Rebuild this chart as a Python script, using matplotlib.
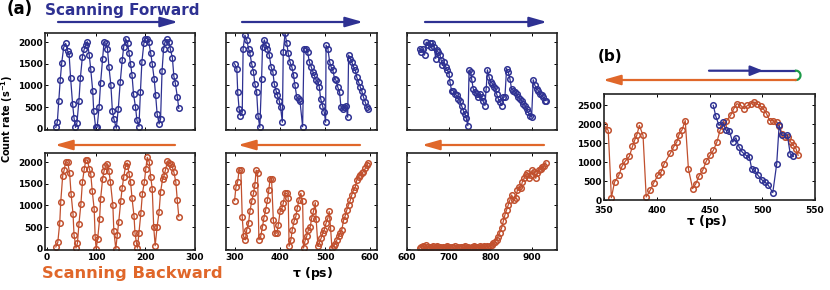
import numpy as np
import matplotlib
matplotlib.use('Agg')
import matplotlib.pyplot as plt

W, H = 830, 290

blue = '#2e3192'
red = '#c1502e'
orange = '#e0672a'
green = '#1d9a48'

# (a) scanning forward, three delay windows
fwdTime1 = [18, 21, 24, 27, 30, 34, 38, 42, 45, 48, 52, 55, 58, 61, 65, 68, 72, 76, 79, 82, 86, 89, 93, 95, 99, 102,
	106, 109, 113, 116, 120, 123, 126, 130, 133, 136, 141, 145, 149, 153, 156, 160, 164, 167, 170, 173, 176, 180,
	183, 187, 190, 193, 197, 200, 204, 207, 211, 214, 218, 221, 224, 228, 231, 234, 237, 240, 244, 248, 251, 255,
	258, 261, 265, 268]
fwdRate1 = [30, 150, 640, 1130, 1520, 1880, 1970, 1800, 1720, 1180, 580, 250, 30, 140, 650, 1180, 1660, 1850, 1930,
	2010, 1700, 1370, 880, 420, 30, 30, 500, 1050, 1600, 2000, 1970, 1850, 1430, 1000, 420, 225, 10, 460, 1080, 1580,
	1890, 2080, 1970, 1740, 1500, 1230, 800, 500, 190, 50, 845, 1540, 1970, 2080, 2080, 2000, 1740, 1500, 1150, 770,
	340, 110, 225, 1330, 1830, 2000, 2060, 2000, 1830, 1640, 1210, 1050, 740, 470]

fwdTime2 = [299, 304, 306, 309, 312, 316, 318, 322, 326, 330, 333, 337, 341, 344, 348, 351, 355, 359, 361, 365, 369,
	372, 376, 380, 384, 387, 391, 394, 398, 401, 405, 407, 411, 415, 418, 422, 426, 430, 433, 437, 441, 444, 450,
	453, 458, 461, 465, 469, 473, 476, 480, 484, 487, 490, 494, 498, 501, 502, 506, 510, 513, 517, 521, 524, 528,
	532, 535, 539, 542, 546, 550, 552, 556, 559, 563, 567, 570, 574, 578, 581, 585, 589, 593, 596]
fwdRate2 = [1500, 1390, 845, 460, 300, 380, 1850, 2160, 2050, 1850, 1740, 1500, 1310, 1040, 845, 300, 30, 1150, 1890,
	2050, 1930, 1850, 1700, 1430, 1310, 1040, 880, 770, 650, 500, 150, 1770, 2200, 1970, 1740, 1540, 1430, 1230,
	1000, 730, 690, 650, 45, 1850, 1850, 1770, 1540, 1430, 1310, 1230, 1120, 1080, 960, 690, 535, 380, 150, 1930,
	1850, 1540, 1430, 1350, 1150, 1120, 960, 845, 500, 460, 500, 535, 265, 1700, 1620, 1540, 1430, 1350, 1190, 1080,
	960, 880, 730, 610, 500, 460]

fwdTime3 = [630, 634, 638, 642, 646, 650, 654, 657, 661, 665, 669, 671, 675, 679, 682, 685, 689, 693, 697, 701, 703,
	707, 711, 715, 719, 723, 727, 731, 735, 739, 742, 746, 749, 753, 755, 759, 763, 767, 771, 775, 779, 782, 787,
	790, 793, 797, 801, 805, 809, 813, 815, 819, 823, 827, 831, 835, 839, 843, 847, 851, 855, 859, 863, 867, 871,
	875, 879, 883, 887, 891, 895, 899, 903, 907, 911, 915, 919, 923, 927, 931, 934]
fwdRate3 = [1850, 1770, 1830, 1700, 2000, 1930, 1980, 1890, 1970, 1890, 1620, 1810, 1770, 1700, 1580, 1460, 1540,
	1430, 1350, 1270, 1080, 880, 880, 805, 770, 690, 650, 535, 420, 340, 250, 70, 1350, 1310, 1150, 920, 845, 805,
	730, 805, 730, 650, 535, 920, 1360, 1190, 1080, 1040, 960, 920, 805, 690, 610, 535, 730, 730, 1390, 1310, 1150,
	920, 880, 845, 805, 730, 690, 650, 575, 535, 460, 380, 300, 265, 1130, 1000, 920, 880, 805, 770, 730, 650, 650]

# (a) scanning backward
bwdTime1 = [18, 22, 26, 28, 32, 35, 38, 42, 46, 49, 53, 55, 59, 62, 65, 69, 72, 76, 79, 82, 86, 89, 92, 96, 98, 100,
	103, 107, 109, 113, 116, 119, 123, 126, 129, 134, 136, 140, 143, 146, 150, 153, 156, 160, 163, 167, 170, 173,
	177, 179, 182, 184, 187, 191, 194, 198, 201, 204, 208, 211, 214, 217, 220, 224, 228, 231, 235, 238, 241, 245,
	248, 252, 255, 258, 262, 265, 268]
bwdRate1 = [40, 145, 600, 1080, 1690, 1820, 2000, 2000, 1750, 1270, 800, 320, 15, 130, 570, 1030, 1530, 1850, 2050,
	2050, 1850, 1730, 1340, 915, 270, 0, 220, 680, 1140, 1600, 1790, 1900, 1960, 1790, 1540, 1000, 400, 0, 320, 625,
	1100, 1410, 1650, 1920, 1980, 1730, 1540, 1160, 755, 360, 130, 15, 360, 830, 1270, 1540, 1850, 2110, 2000, 1650,
	1390, 510, 70, 510, 855, 1310, 1600, 1690, 1820, 2020, 1980, 1960, 1880, 1770, 1540, 1120, 740]

bwdTime2 = [299, 302, 306, 309, 313, 316, 319, 323, 326, 330, 333, 337, 341, 344, 347, 350, 353, 357, 361, 364, 368,
	372, 375, 378, 381, 385, 389, 393, 396, 400, 404, 407, 411, 415, 418, 420, 424, 427, 431, 435, 438, 442, 446,
	450, 452, 455, 459, 463, 467, 470, 474, 478, 480, 484, 487, 491, 495, 498, 502, 506, 509, 512, 515, 519, 522,
	526, 530, 533, 537, 541, 544, 548, 552, 556, 559, 563, 567, 570, 574, 578, 581, 585, 589, 593, 595]
bwdRate2 = [1110, 1420, 1550, 1815, 1815, 730, 285, 205, 440, 590, 860, 1090, 1280, 1470, 1815, 1740, 205, 285, 510,
	705, 895, 1130, 1360, 1620, 1620, 665, 360, 360, 550, 860, 935, 1050, 1280, 1280, 1165, 55, 205, 440, 630, 745,
	935, 1130, 1280, 1090, 15, 170, 285, 440, 510, 705, 860, 1065, 680, 55, 130, 245, 360, 440, 590, 705, 860, 475,
	15, 55, 115, 205, 285, 360, 440, 665, 745, 895, 1010, 1125, 1240, 1355, 1430, 1585, 1660, 1700, 1740, 1780,
	1855, 1930, 1970]

bwdTime3 = [631, 634, 638, 641, 645, 648, 652, 655, 659, 662, 666, 669, 673, 676, 680, 683, 687, 690, 694, 697, 701,
	704, 708, 711, 715, 718, 722, 725, 729, 732, 736, 739, 743, 746, 750, 753, 757, 760, 764, 767, 771, 774, 778,
	781, 785, 788, 792, 795, 799, 803, 807, 811, 815, 818, 822, 827, 831, 835, 839, 843, 847, 851, 857, 861, 865,
	869, 873, 877, 881, 885, 889, 893, 897, 901, 905, 909, 913, 917, 921, 925, 929, 933]
bwdRate3 = [20, 45, 60, 30, 75, 40, 25, 50, 35, 55, 20, 40, 65, 30, 45, 25, 50, 20, 35, 60, 40, 15, 45, 30, 55, 25,
	40, 20, 50, 35, 30, 60, 25, 45, 20, 10, 40, 55, 30, 45, 25, 60, 35, 50, 70, 40, 55, 30, 65, 80, 130, 160, 205,
	280, 360, 475, 630, 780, 895, 1010, 1125, 1240, 1125, 1165, 1355, 1430, 1395, 1550, 1625, 1700, 1740, 1625,
	1700, 1815, 1780, 1625, 1740, 1815, 1830, 1890, 1910, 1985]

# (b) forward then backward over the same window
bTimeFwd = [453.6, 456, 459, 462.5, 465.6, 468.8, 472, 475, 478, 481, 484.6, 487.8, 490, 493, 496, 499.5, 502.6,
	505.8, 510, 513.7, 516, 518.5, 523.8, 526.5, 529.5]
bRateFwd = [2500, 2210, 1970, 2060, 1840, 1820, 1530, 1645, 1400, 1265, 1180, 1135, 825, 780, 650, 535, 475, 385,
	195, 955, 1970, 1705, 1720, 1220, 1150]
bTimeBwd = [350, 354, 357, 360, 364, 367, 370, 374, 377, 379, 381, 383.5, 387, 390, 394, 397, 401, 404, 407, 413,
	416, 419, 421, 424, 427, 430, 434, 437, 440, 443.5, 447, 450.5, 453.6, 457, 460, 463, 466, 470, 473, 476, 479.5,
	483, 486, 489, 492, 495, 498.5, 501, 504, 507, 510.5, 514, 516, 519, 522, 524, 527, 529.5, 532, 534]
bRateBwd = [1970, 1840, 60, 475, 650, 885, 1020, 1150, 1415, 1575, 1705, 1970, 1705, 80, 270, 445, 650, 735, 955,
	1240, 1400, 1530, 1720, 1855, 2100, 825, 300, 430, 630, 780, 1030, 1180, 1310, 1530, 1840, 1945, 2085, 2235,
	2410, 2545, 2500, 2410, 2500, 2545, 2590, 2545, 2475, 2410, 2280, 2100, 2100, 2060, 1945, 1750, 1660, 1660,
	1530, 1440, 1355, 1180]

rateTicks = [0, 500, 1000, 1500, 2000]


def pixAxes(fig, x0, y0, x1, y1):
	return fig.add_axes([x0 / W, 1 - y1 / H, (x1 - x0) / W, (y1 - y0) / H])


def styleAxes(ax, xlim, ylim, xticks, yticks, showX, showY, xpad=2):
	ax.set_xlim(xlim)
	ax.set_ylim(ylim)
	ax.set_xticks(xticks)
	ax.set_yticks(yticks)
	ax.tick_params(direction='in', top=True, right=True, length=2.5, width=0.7, labelsize=6.5, pad=1.5)
	ax.tick_params(axis='x', pad=xpad)
	if not showX:
		ax.set_xticklabels([])
	if not showY:
		ax.set_yticklabels([])
	for s in ax.spines.values():
		s.set_linewidth(1.2)
		s.set_color('#222222')


def drawData(ax, t, c, color):
	ax.plot(t, c, '-o', color=color, lw=0.9, ms=4, mfc='none', mew=1.1)


def arrow(ov, x0, x1, y, color, hl=1.05):
	ov.annotate('', xy=(x1, y), xytext=(x0, y),
		arrowprops=dict(arrowstyle='-|>,head_length=%g,head_width=0.3' % hl, color=color, lw=1.6,
			shrinkA=0, shrinkB=0))


plt.rcParams['font.family'] = ['DejaVu Sans']
plt.rcParams['font.weight'] = 'bold'
plt.rcParams['mathtext.default'] = 'bf'

fig = plt.figure(figsize=(W / 100, H / 100), dpi=100)

cols = [(45, 195, (-4, 301), [0, 100, 200, 300]),
	(226, 377, (280, 615), [300, 400, 500, 600]),
	(407, 557, (600, 960), [600, 700, 800, 900])]
fwdData = [(fwdTime1, fwdRate1), (fwdTime2, fwdRate2), (fwdTime3, fwdRate3)]
bwdData = [(bwdTime1, bwdRate1), (bwdTime2, bwdRate2), (bwdTime3, bwdRate3)]

for i in range(3):
	x0, x1, xlim, xticks = cols[i]
	axTop = pixAxes(fig, x0, 33, x1, 130)
	drawData(axTop, fwdData[i][0], fwdData[i][1], blue)
	styleAxes(axTop, xlim, (-30, 2210), xticks, rateTicks, False, i == 0)
	axBot = pixAxes(fig, x0, 153, x1, 250)
	drawData(axBot, bwdData[i][0], bwdData[i][1], red)
	styleAxes(axBot, xlim, (-30, 2210), xticks, rateTicks, True, i == 0)

axB = pixAxes(fig, 604, 94, 815, 200)
drawData(axB, bTimeBwd, bRateBwd, red)
drawData(axB, bTimeFwd, bRateFwd, blue)
styleAxes(axB, (350, 550), (0, 2800), [350, 400, 450, 500, 550], [0, 500, 1000, 1500, 2000, 2500], True, True,
	xpad=4)

# overlay in pixel coordinates for labels and arrows
ov = fig.add_axes([0, 0, 1, 1], zorder=10)
ov.set_xlim(0, W)
ov.set_ylim(H, 0)
ov.axis('off')

for x0, x1 in [(58, 178), (242, 363), (425, 547)]:
	arrow(ov, x0, x1, 22, blue)
for x0, x1 in [(175, 55), (360, 238), (544, 422)]:
	arrow(ov, x0, x1, 145, orange)

# loop arrow of (b)
ov.plot([750, 796], [70.7, 70.7], color=blue, lw=1.6, solid_capstyle='butt')
arrow(ov, 709, 763, 70.7, blue, hl=0.75)
ang = np.linspace(-np.pi / 2, np.pi / 2, 40)
ov.plot(796 + 4.5 * np.cos(ang), 75.35 + 4.65 * np.sin(ang), color=green, lw=1.6)
arrow(ov, 796, 603, 80, orange)

ov.text(7, 14, '(a)', fontsize=12, ha='left', va='baseline')
ov.text(45, 15, 'Scanning Forward', fontsize=11, color=blue, ha='left', va='baseline')
ov.text(42, 278, 'Scanning Backward', fontsize=11.8, color=orange, ha='left', va='baseline')
ov.text(598, 61, '(b)', fontsize=11, ha='left', va='baseline')
ov.text(7, 119, r'Count rate (s$^{-1}$)', fontsize=7, rotation=90, ha='center', va='center')
ov.text(313, 274, r'$\tau$ (ps)', fontsize=9, ha='center', va='center')
ov.text(707, 222, r'$\tau$ (ps)', fontsize=9, ha='center', va='center')

fig.savefig('out.png', dpi=100)
